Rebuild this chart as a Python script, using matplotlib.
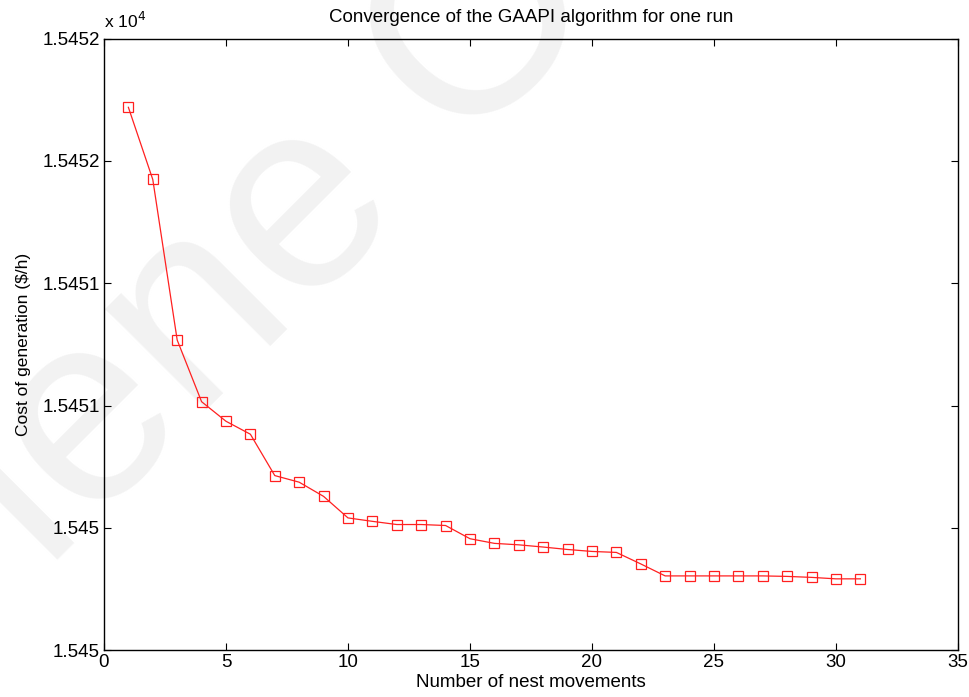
import matplotlib
matplotlib.use("Agg")
import matplotlib.pyplot as plt

plt.rcParams['font.family'] = ['Liberation Sans', 'DejaVu Sans']

# iteration number and cost of generation ($/h)
moves = list(range(1, 32))
cost = [15451.719, 15451.424, 15450.768, 15450.516, 15450.436, 15450.383,
        15450.214, 15450.187, 15450.129, 15450.041, 15450.027, 15450.014,
        15450.014, 15450.010, 15449.956, 15449.937, 15449.931, 15449.922,
        15449.912, 15449.904, 15449.900, 15449.853, 15449.804, 15449.804,
        15449.804, 15449.804, 15449.804, 15449.802, 15449.798, 15449.792,
        15449.792]

yticks = [15449.5, 15450.0, 15450.5, 15451.0, 15451.5, 15452.0]
ytick_labels = ["1.545", "1.545", "1.5451", "1.5451", "1.5452", "1.5452"]
xticks = [0, 5, 10, 15, 20, 25, 30, 35]

fs = 13.5
fig = plt.figure(figsize=(9.7, 6.97), dpi=100)

# faint watermark behind the plot
fig.text(0.286, 0.655, "lene O", fontsize=195, color="#f2f2f2", rotation=45,
         ha="center", va="center", zorder=-5)

ax = fig.add_axes([0.1072, 0.067, 0.8804, 0.8777])
ax.patch.set_alpha(0)

ax.plot(moves, cost, color="#ff2020", lw=0.9, marker="s", markersize=7,
        markerfacecolor="none", markeredgecolor="#ff2020", markeredgewidth=0.9)

ax.set_xlim(0, 35)
ax.set_ylim(15449.5, 15452.0)
ax.set_xticks(xticks)
ax.set_yticks(yticks)
ax.set_yticklabels(ytick_labels)
ax.tick_params(direction="in", top=True, right=True, length=5, width=0.8,
               labelsize=fs, colors="black", pad=3)
for s in ax.spines.values():
    s.set_linewidth(1.0)

ax.set_title("Convergence of the GAAPI algorithm for one run", fontsize=fs, pad=12)
ax.set_xlabel("Number of nest movements", fontsize=fs, labelpad=2)
ax.set_ylabel("Cost of generation ($/h)", fontsize=12.5, labelpad=8)
ax.text(0.0, 1.012, r"x 10$^4$", transform=ax.transAxes, fontsize=12.5,
        ha="left", va="bottom")

fig.savefig("out.png", dpi=100)
